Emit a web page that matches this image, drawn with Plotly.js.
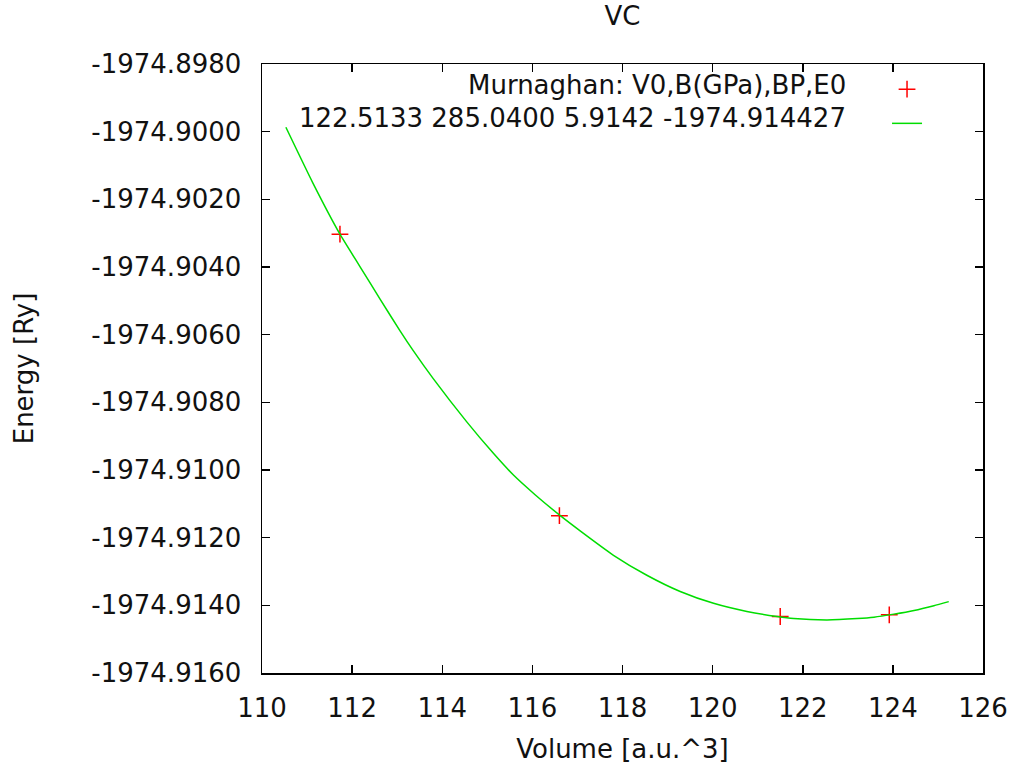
<!DOCTYPE html>
<html>
<head>
<meta charset="utf-8">
<script src="https://cdn.plot.ly/plotly-3.0.1.min.js"></script>
<style>html,body{margin:0;padding:0;background:#fff;}</style>
</head>
<body>
<div id="chart" style="width:1014px;height:773px;"></div>
<script>
// Calculated points (volume in a.u.^3, energy in Ry)
const pointVolume = [111.73, 116.60, 121.50, 123.92];
const pointEnergy = [-1974.90303, -1974.91135, -1974.91433, -1974.91428];

// Murnaghan fit curve
const fitVolume = [110.53, 111.13, 111.73, 112.17, 112.62, 113.06, 113.36, 113.80, 114.54, 115.13,
                   115.58, 116.06, 116.62, 117.06, 117.80, 118.54, 119.28, 120.02, 120.76, 121.43,
                   121.80, 122.54, 123.21, 123.58, 124.02, 124.47, 124.91, 125.24];
const fitEnergy = [-1974.89987, -1974.90152, -1974.90303, -1974.90398, -1974.90495, -1974.90588,
                   -1974.90648, -1974.90730, -1974.90857, -1974.90950, -1974.91015, -1974.91073,
                   -1974.91135, -1974.91180, -1974.91252, -1974.91311, -1974.91359, -1974.91394,
                   -1974.91418, -1974.91433, -1974.91439, -1974.91443, -1974.91439, -1974.91435,
                   -1974.91426, -1974.91415, -1974.91401, -1974.91389];

const xTickVals = [110, 112, 114, 116, 118, 120, 122, 124, 126];
const xTickText = ['110', '112', '114', '116', '118', '120', '122', '124', '126'];
const yTickVals = [-1974.898, -1974.900, -1974.902, -1974.904, -1974.906, -1974.908,
                   -1974.910, -1974.912, -1974.914, -1974.916];
const yTickText = ['-1974.8980', '-1974.9000', '-1974.9020', '-1974.9040', '-1974.9060',
                   '-1974.9080', '-1974.9100', '-1974.9120', '-1974.9140', '-1974.9160'];

const legendLabels = ['Murnaghan: V0,B(GPa),BP,E0', '122.5133 285.0400 5.9142 -1974.914427'];

const FONT = 'DejaVu Sans, sans-serif';
const TXT = '#111111';
const FS = 26;

const traces = [
  {
    x: pointVolume, y: pointEnergy, type: 'scatter', mode: 'markers', name: ' ',
    marker: {symbol: 'cross-thin', size: 12, color: 'rgba(0,0,0,0)', line: {color: '#ff0000', width: 1.5}},
    showlegend: true
  },
  {
    x: fitVolume, y: fitEnergy, type: 'scatter', mode: 'lines', name: ' ',
    line: {color: '#00dd00', width: 1.5, shape: 'spline', smoothing: 0.5},
    showlegend: true
  }
];

const axisCommon = {
  showline: true, linecolor: '#000', linewidth: 1.5, mirror: 'ticks',
  ticks: 'inside', ticklen: 8, tickwidth: 1.5, tickcolor: '#000',
  showgrid: false, zeroline: false, tickmode: 'array',
  tickfont: {family: FONT, size: FS, color: TXT}
};

const layout = {
  width: 1014, height: 773,
  margin: {l: 262, r: 31, t: 64, b: 100},
  paper_bgcolor: '#fff', plot_bgcolor: '#fff',
  font: {family: FONT, size: FS, color: TXT},
  title: {text: 'VC', font: {family: FONT, size: FS, color: TXT},
          x: 0.5, xref: 'paper', y: 1 - 16/773, yref: 'container', yanchor: 'middle'},
  xaxis: Object.assign({}, axisCommon, {
    range: [110, 126], tickvals: xTickVals, ticktext: xTickText, ticklabelstandoff: 11,
    title: {text: 'Volume [a.u.^3]', font: {family: FONT, size: FS, color: TXT}, standoff: 18}
  }),
  yaxis: Object.assign({}, axisCommon, {
    range: [-1974.916, -1974.898], tickvals: yTickVals, ticktext: yTickText, ticklabelstandoff: 14,
    title: {text: 'Energy [Ry]', font: {family: FONT, size: FS, color: TXT}, standoff: 50}
  }),
  showlegend: true,
  legend: {x: 0.8669, xanchor: 'left', y: 0.995, yanchor: 'top', bgcolor: 'rgba(0,0,0,0)',
           font: {family: FONT, size: 24}, tracegroupgap: 0, itemwidth: 30},
  annotations: legendLabels.map((t, i) => ({
    text: t, xref: 'paper', yref: 'paper', x: 0.8128, xanchor: 'right',
    y: [0.9655, 0.9113][i], yanchor: 'middle', showarrow: false,
    font: {family: FONT, size: FS, color: TXT}
  }))
};

Plotly.newPlot('chart', traces, layout, {displayModeBar: false, staticPlot: true});
</script>
</body>
</html>
